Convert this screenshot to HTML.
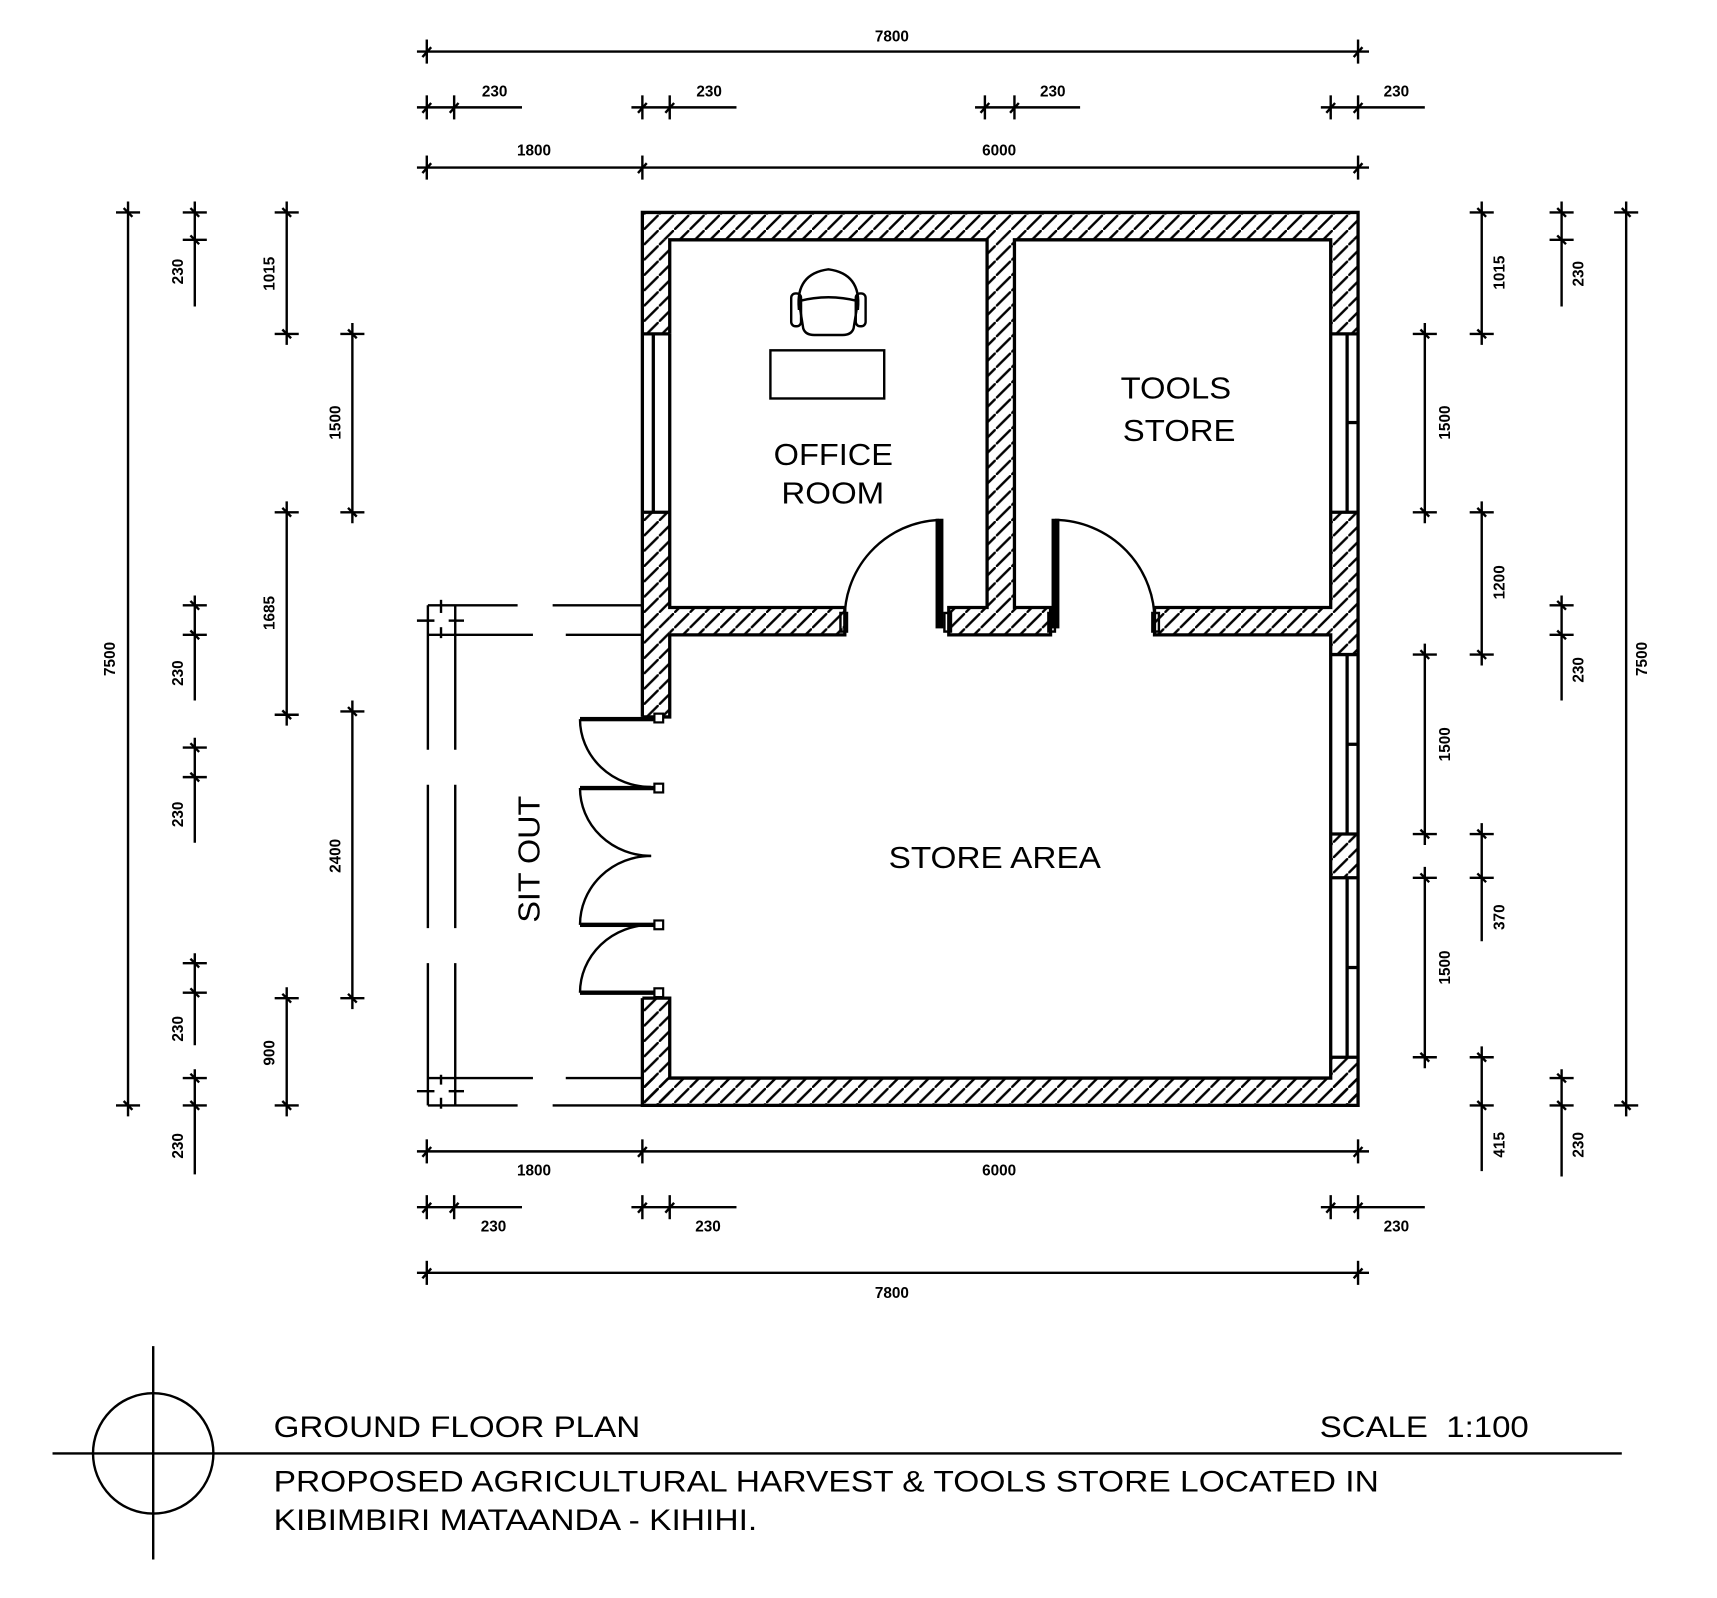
<!DOCTYPE html>
<html><head><meta charset="utf-8"><style>
html,body{margin:0;padding:0;background:#fff;}
svg{display:block;}
.d{stroke:#000;stroke-width:2.2;fill:none;}
.w{stroke:#000;stroke-width:3;fill:none;}
.t{font-family:"Liberation Sans",sans-serif;font-size:14px;font-weight:bold;fill:#000;}
.r{font-family:"Liberation Sans",sans-serif;font-size:28px;fill:#000;}
</style></head><body>
<svg width="1717" height="1598" viewBox="0 0 1569 1460" xmlns="http://www.w3.org/2000/svg">
<defs>
<pattern id="h" patternUnits="userSpaceOnUse" width="14" height="14">
<line x1="-2" y1="16" x2="16" y2="-2" stroke="#000" stroke-width="2.2"/>
</pattern>
<g id="tk"><line x1="0" y1="-11" x2="0" y2="11" stroke="#000" stroke-width="2.2"/><line x1="-4" y1="5" x2="4" y2="-4" stroke="#000" stroke-width="2.2"/></g>
<g id="tv"><line x1="-11" y1="0" x2="11" y2="0" stroke="#000" stroke-width="2.2"/><line x1="-4" y1="-4" x2="4" y2="4" stroke="#000" stroke-width="2.2"/></g>
</defs>
<rect width="1569" height="1460" fill="#fff"/>

<g fill="url(#h)">
<rect x="587" y="194" width="654" height="25"/>
<rect x="587" y="219" width="25" height="86"/>
<rect x="587" y="468" width="25" height="187"/>
<rect x="587" y="912" width="25" height="98"/>
<rect x="1216" y="219" width="25" height="86"/>
<rect x="1216" y="468" width="25" height="130"/>
<rect x="1216" y="762" width="25" height="40"/>
<rect x="1216" y="966" width="25" height="44"/>
<rect x="587" y="985" width="654" height="25"/>
<rect x="902" y="219" width="25" height="336"/>
<rect x="612" y="555" width="160" height="25"/>
<rect x="867" y="555" width="93" height="25"/>
<rect x="1055" y="555" width="161" height="25"/>
</g>
<g class="w">
<polyline points="587,655 587,194 1241,194 1241,1010 587,1010 587,912"/>
<polyline points="612,305 612,219 902,219 902,555 867,555 867,580 960,580 960,555 927,555 927,219 1216,219 1216,555 1055,555 1055,580 1216,580 1216,985 612,985 612,912 587,912"/>
<polyline points="772,555 612,555 612,305"/>
<polyline points="772,555 772,580 612,580 612,655 587,655"/>
<line x1="587" y1="305" x2="612" y2="305"/><line x1="587" y1="468" x2="612" y2="468"/>
<line x1="597" y1="305" x2="597" y2="468"/>
<line x1="1216" y1="305" x2="1241" y2="305"/><line x1="1216" y1="468" x2="1241" y2="468"/>
<line x1="1216" y1="598" x2="1241" y2="598"/><line x1="1216" y1="762" x2="1241" y2="762"/>
<line x1="1216" y1="802" x2="1241" y2="802"/><line x1="1216" y1="966" x2="1241" y2="966"/>
<line x1="1231" y1="305" x2="1231" y2="468"/><line x1="1231" y1="598" x2="1231" y2="762"/><line x1="1231" y1="802" x2="1231" y2="966"/>
<line x1="1231" y1="386" x2="1241" y2="386"/><line x1="1231" y1="680" x2="1241" y2="680"/><line x1="1231" y1="884" x2="1241" y2="884"/>
</g>
<g stroke="#000" stroke-width="2.2" fill="none">
<path d="M772,570 A90,90 0 0 1 858,475"/>
<path d="M964,475 A92,92 0 0 1 1055,570"/>
<rect x="856" y="475" width="5" height="98" fill="#000"/>
<rect x="962" y="475" width="5" height="98" fill="#000"/>
<rect x="768" y="560" width="6" height="17"/><rect x="863" y="560" width="6" height="17"/>
<rect x="958" y="560" width="6" height="17"/><rect x="1053" y="560" width="6" height="17"/>
<path d="M530,657 A65,62 0 0 0 595,719"/>
<path d="M530,720 A65,62 0 0 0 595,782"/>
<path d="M595,782 A65,63 0 0 0 530,845"/>
<path d="M595,845 A65,62 0 0 0 530,907"/>
</g>
<g fill="#000">
<rect x="530" y="655" width="72" height="4"/><rect x="530" y="718" width="72" height="4"/>
<rect x="530" y="843" width="72" height="4"/><rect x="530" y="905" width="72" height="4"/>
</g>
<g stroke="#000" stroke-width="2" fill="#fff">
<rect x="598" y="652" width="8" height="8"/><rect x="598" y="716" width="8" height="8"/>
<rect x="598" y="841" width="8" height="8"/><rect x="598" y="903" width="8" height="8"/>
</g>
<g class="d">
<line x1="391" y1="553" x2="473" y2="553"/><line x1="505" y1="553" x2="587" y2="553"/>
<line x1="391" y1="580" x2="487" y2="580"/><line x1="517" y1="580" x2="587" y2="580"/>
<line x1="391" y1="985" x2="487" y2="985"/><line x1="517" y1="985" x2="587" y2="985"/>
<line x1="391" y1="1010" x2="473" y2="1010"/><line x1="505" y1="1010" x2="587" y2="1010"/>
<line x1="391" y1="553" x2="391" y2="685"/><line x1="391" y1="717" x2="391" y2="848"/><line x1="391" y1="880" x2="391" y2="1010"/>
<line x1="416" y1="553" x2="416" y2="685"/><line x1="416" y1="717" x2="416" y2="848"/><line x1="416" y1="880" x2="416" y2="1010"/>
<line x1="381" y1="567" x2="397" y2="567"/><line x1="410" y1="567" x2="424" y2="567"/><line x1="403" y1="548" x2="403" y2="560"/><line x1="403" y1="573" x2="403" y2="583"/>
<line x1="381" y1="997" x2="397" y2="997"/><line x1="410" y1="997" x2="424" y2="997"/><line x1="403" y1="982" x2="403" y2="991"/><line x1="403" y1="1003" x2="403" y2="1013"/>
</g>
<g stroke="#000" stroke-width="2.2" fill="none">
<rect x="704" y="320" width="104" height="44"/>
<path d="M730,282 Q727,250 757,246 Q787,250 784,282 Z" fill="#fff"/>
<path d="M730,275 Q757,268 784,275 L780,300 Q778,306 770,306 L744,306 Q736,306 734,300 Z" fill="#fff"/>
<rect x="723" y="268" width="9" height="30" rx="4"/>
<rect x="782" y="268" width="9" height="30" rx="4"/>
</g>
<g class="r">
<text x="707" y="425" textLength="109" lengthAdjust="spacingAndGlyphs">OFFICE</text>
<text x="714" y="460" textLength="94" lengthAdjust="spacingAndGlyphs">ROOM</text>
<text x="1024" y="364" textLength="101" lengthAdjust="spacingAndGlyphs">TOOLS</text>
<text x="1026" y="403" textLength="103" lengthAdjust="spacingAndGlyphs">STORE</text>
<text x="812" y="793" textLength="194" lengthAdjust="spacingAndGlyphs">STORE AREA</text>
<text transform="translate(493,843) rotate(-90)" textLength="116" lengthAdjust="spacingAndGlyphs">SIT OUT</text>
</g>

<g class="d">
<line x1="381" y1="47" x2="1251" y2="47"/>
<line x1="381" y1="98" x2="477" y2="98"/><line x1="577" y1="98" x2="673" y2="98"/><line x1="891" y1="98" x2="987" y2="98"/><line x1="1207" y1="98" x2="1302" y2="98"/>
<line x1="381" y1="153" x2="1251" y2="153"/>
<line x1="381" y1="1052" x2="1251" y2="1052"/>
<line x1="381" y1="1103" x2="477" y2="1103"/><line x1="577" y1="1103" x2="673" y2="1103"/><line x1="1207" y1="1103" x2="1302" y2="1103"/>
<line x1="381" y1="1163" x2="1251" y2="1163"/>
<line x1="117" y1="184" x2="117" y2="1020"/>
<line x1="178" y1="184" x2="178" y2="280"/><line x1="178" y1="544" x2="178" y2="640"/><line x1="178" y1="674" x2="178" y2="770"/><line x1="178" y1="871" x2="178" y2="955"/><line x1="178" y1="977" x2="178" y2="1073"/>
<line x1="262" y1="184" x2="262" y2="315"/><line x1="262" y1="458" x2="262" y2="663"/><line x1="262" y1="902" x2="262" y2="1020"/>
<line x1="322" y1="295" x2="322" y2="478"/><line x1="322" y1="640" x2="322" y2="922"/>
<line x1="1302" y1="295" x2="1302" y2="478"/><line x1="1302" y1="588" x2="1302" y2="772"/><line x1="1302" y1="792" x2="1302" y2="976"/>
<line x1="1354" y1="184" x2="1354" y2="315"/><line x1="1354" y1="458" x2="1354" y2="608"/><line x1="1354" y1="752" x2="1354" y2="860"/><line x1="1354" y1="956" x2="1354" y2="1070"/>
<line x1="1427" y1="184" x2="1427" y2="280"/><line x1="1427" y1="544" x2="1427" y2="640"/><line x1="1427" y1="977" x2="1427" y2="1075"/>
<line x1="1486" y1="184" x2="1486" y2="1020"/>
</g>
<g>
<use href="#tk" x="390" y="47"/><use href="#tk" x="1241" y="47"/>
<use href="#tk" x="390" y="98"/><use href="#tk" x="415" y="98"/><use href="#tk" x="587" y="98"/><use href="#tk" x="612" y="98"/><use href="#tk" x="900" y="98"/><use href="#tk" x="927" y="98"/><use href="#tk" x="1216" y="98"/><use href="#tk" x="1241" y="98"/>
<use href="#tk" x="390" y="153"/><use href="#tk" x="587" y="153"/><use href="#tk" x="1241" y="153"/>
<use href="#tk" x="390" y="1052"/><use href="#tk" x="587" y="1052"/><use href="#tk" x="1241" y="1052"/>
<use href="#tk" x="390" y="1103"/><use href="#tk" x="415" y="1103"/><use href="#tk" x="587" y="1103"/><use href="#tk" x="612" y="1103"/><use href="#tk" x="1216" y="1103"/><use href="#tk" x="1241" y="1103"/>
<use href="#tk" x="390" y="1163"/><use href="#tk" x="1241" y="1163"/>
<use href="#tv" x="117" y="194"/><use href="#tv" x="117" y="1010"/>
<use href="#tv" x="178" y="194"/><use href="#tv" x="178" y="219"/><use href="#tv" x="178" y="553"/><use href="#tv" x="178" y="580"/><use href="#tv" x="178" y="683"/><use href="#tv" x="178" y="710"/><use href="#tv" x="178" y="880"/><use href="#tv" x="178" y="907"/><use href="#tv" x="178" y="985"/><use href="#tv" x="178" y="1010"/>
<use href="#tv" x="262" y="194"/><use href="#tv" x="262" y="305"/><use href="#tv" x="262" y="468"/><use href="#tv" x="262" y="653"/><use href="#tv" x="262" y="912"/><use href="#tv" x="262" y="1010"/>
<use href="#tv" x="322" y="305"/><use href="#tv" x="322" y="468"/><use href="#tv" x="322" y="650"/><use href="#tv" x="322" y="912"/>
<use href="#tv" x="1302" y="305"/><use href="#tv" x="1302" y="468"/><use href="#tv" x="1302" y="598"/><use href="#tv" x="1302" y="762"/><use href="#tv" x="1302" y="802"/><use href="#tv" x="1302" y="966"/>
<use href="#tv" x="1354" y="194"/><use href="#tv" x="1354" y="305"/><use href="#tv" x="1354" y="468"/><use href="#tv" x="1354" y="598"/><use href="#tv" x="1354" y="762"/><use href="#tv" x="1354" y="802"/><use href="#tv" x="1354" y="966"/><use href="#tv" x="1354" y="1010"/>
<use href="#tv" x="1427" y="194"/><use href="#tv" x="1427" y="219"/><use href="#tv" x="1427" y="553"/><use href="#tv" x="1427" y="580"/><use href="#tv" x="1427" y="985"/><use href="#tv" x="1427" y="1010"/>
<use href="#tv" x="1486" y="194"/><use href="#tv" x="1486" y="1010"/>
</g>
<g class="t" text-anchor="middle">
<text x="815" y="38">7800</text>
<text x="452" y="88">230</text><text x="648" y="88">230</text><text x="962" y="88">230</text><text x="1276" y="88">230</text>
<text x="488" y="142">1800</text><text x="913" y="142">6000</text>
<text x="488" y="1074">1800</text><text x="913" y="1074">6000</text>
<text x="451" y="1125">230</text><text x="647" y="1125">230</text><text x="1276" y="1125">230</text>
<text x="815" y="1186">7800</text>
<text transform="translate(105,602) rotate(-90)">7500</text>
<text transform="translate(167,248) rotate(-90)">230</text>
<text transform="translate(167,615) rotate(-90)">230</text>
<text transform="translate(167,744) rotate(-90)">230</text>
<text transform="translate(167,940) rotate(-90)">230</text>
<text transform="translate(167,1047) rotate(-90)">230</text>
<text transform="translate(251,250) rotate(-90)">1015</text>
<text transform="translate(251,560) rotate(-90)">1685</text>
<text transform="translate(251,962) rotate(-90)">900</text>
<text transform="translate(311,386) rotate(-90)">1500</text>
<text transform="translate(311,782) rotate(-90)">2400</text>
<text transform="translate(1325,386) rotate(-90)">1500</text>
<text transform="translate(1325,680) rotate(-90)">1500</text>
<text transform="translate(1325,884) rotate(-90)">1500</text>
<text transform="translate(1375,249) rotate(-90)">1015</text>
<text transform="translate(1375,532) rotate(-90)">1200</text>
<text transform="translate(1375,838) rotate(-90)">370</text>
<text transform="translate(1375,1046) rotate(-90)">415</text>
<text transform="translate(1447,250) rotate(-90)">230</text>
<text transform="translate(1447,612) rotate(-90)">230</text>
<text transform="translate(1447,1046) rotate(-90)">230</text>
<text transform="translate(1505,602) rotate(-90)">7500</text>
</g>

<g stroke="#000" stroke-width="2.2" fill="none">
<circle cx="140" cy="1328" r="55"/>
<line x1="140" y1="1230" x2="140" y2="1425"/>
<line x1="48" y1="1328" x2="1482" y2="1328"/>
</g>
<g class="r" style="font-size:27px">
<text x="250" y="1313" textLength="335" lengthAdjust="spacingAndGlyphs">GROUND FLOOR PLAN</text>
<text x="1206" y="1313" textLength="191" lengthAdjust="spacingAndGlyphs">SCALE&#160; 1:100</text>
<text x="250" y="1363" textLength="1010" lengthAdjust="spacingAndGlyphs">PROPOSED AGRICULTURAL HARVEST &amp; TOOLS STORE LOCATED IN</text>
<text x="250" y="1398" textLength="442" lengthAdjust="spacingAndGlyphs">KIBIMBIRI MATAANDA - KIHIHI.</text>
</g>
</svg>
</body></html>
